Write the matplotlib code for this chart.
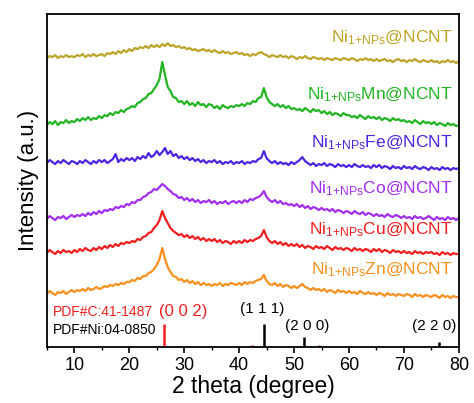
import numpy as np
import matplotlib
matplotlib.use('Agg')
import matplotlib.pyplot as plt
from matplotlib.ticker import MultipleLocator

plt.rcParams['font.family'] = ['Liberation Sans', 'DejaVu Sans']
plt.rcParams['mathtext.fontset'] = 'custom'
plt.rcParams['mathtext.rm'] = 'Liberation Sans'
plt.rcParams['mathtext.it'] = 'Liberation Sans:italic'

# 2 theta grid, 0.5 degree steps from 5 to 80
two_theta = np.arange(5.0, 80.01, 0.5)

# stacked intensities (a.u., offsets already included)
ni_ncnt = [
    289, 291, 290, 292, 289, 291, 290, 292, 290, 291,
    290, 292, 291, 293, 290, 292, 291, 293, 291, 292,
    293, 291, 294, 293, 295, 293, 296, 294, 297, 295,
    298, 296, 299, 298, 300, 299, 301, 299, 302, 300,
    302, 300, 303, 301, 304, 301, 302, 300, 301, 299,
    300, 298, 299, 297, 298, 296, 297, 298, 296, 297,
    295, 297, 295, 294, 296, 294, 295, 293, 294, 295,
    293, 294, 292, 293, 291, 293, 292, 294, 295, 293,
    292, 290, 292, 291, 290, 292, 290, 291, 289, 291,
    290, 288, 290, 289, 291, 289, 288, 290, 289, 288,
    289, 287, 289, 288, 287, 289, 288, 287, 289, 288,
    287, 289, 288, 286, 288, 287, 289, 287, 288, 286,
    288, 286, 287, 288, 286, 287, 285, 287, 288, 286,
    287, 285, 287, 286, 288, 286, 285, 287, 286, 285,
    287, 285, 286, 284, 286, 285, 287, 285, 286, 284,
    286]

ni_mn = [
    222, 225, 223, 226, 222, 225, 224, 227, 224, 226,
    225, 228, 226, 229, 227, 230, 227, 229, 228, 231,
    229, 232, 231, 234, 232, 235, 234, 237, 235, 238,
    239, 241, 240, 244, 245, 248, 249, 253, 254, 258,
    262, 268, 285, 272, 260, 256, 250, 249, 245, 246,
    243, 246, 242, 244, 241, 245, 242, 243, 240, 243,
    242, 239, 241, 238, 242, 240, 239, 241, 240, 242,
    241, 243, 241, 244, 243, 246, 245, 249, 250, 259,
    250, 245, 243, 241, 243, 240, 242, 239, 241, 238,
    239, 237, 238, 236, 239, 237, 235, 238, 236, 237,
    234, 236, 233, 235, 232, 234, 233, 231, 234, 232,
    232, 230, 231, 229, 232, 230, 228, 231, 229, 230,
    228, 230, 227, 229, 228, 226, 229, 227, 228, 226,
    227, 225, 226, 224, 227, 225, 223, 226, 224, 225,
    223, 225, 222, 224, 223, 221, 224, 222, 223, 221,
    222]

ni_fe = [
    184, 187, 185, 183, 186, 184, 187, 185, 183, 186,
    185, 183, 186, 184, 187, 185, 183, 186, 184, 187,
    185, 187, 184, 186, 188, 193, 185, 188, 186, 189,
    187, 189, 186, 190, 188, 191, 189, 194, 190, 192,
    196, 192, 195, 199, 193, 196, 191, 193, 189, 191,
    188, 190, 187, 189, 186, 188, 185, 187, 184, 186,
    185, 187, 184, 186, 183, 185, 184, 186, 183, 185,
    184, 186, 183, 185, 184, 186, 185, 188, 189, 196,
    189, 186, 184, 186, 183, 185, 183, 184, 182, 185,
    183, 185, 187, 190, 186, 184, 182, 184, 181, 183,
    182, 184, 181, 183, 182, 180, 183, 181, 182, 180,
    182, 180, 183, 181, 180, 182, 180, 181, 179, 182,
    180, 182, 179, 181, 180, 178, 181, 179, 180, 178,
    181, 179, 180, 178, 181, 179, 178, 180, 179, 177,
    180, 178, 179, 177, 180, 178, 179, 177, 179, 178,
    179]

ni_co = [
    128, 131, 129, 127, 130, 129, 131, 128, 130, 132,
    130, 132, 131, 133, 131, 134, 132, 135, 133, 136,
    134, 137, 136, 138, 137, 140, 139, 141, 140, 143,
    142, 145, 144, 147, 147, 150, 151, 154, 155, 158,
    157, 160, 163, 161, 158, 156, 153, 152, 149, 150,
    147, 149, 146, 148, 145, 147, 144, 146, 145, 147,
    144, 146, 143, 145, 144, 146, 143, 145, 146, 144,
    146, 144, 147, 145, 148, 147, 149, 150, 152, 156,
    150, 147, 145, 147, 144, 146, 143, 144, 142, 143,
    141, 143, 140, 142, 139, 141, 138, 140, 139, 137,
    139, 137, 138, 136, 138, 135, 137, 136, 134, 136,
    135, 133, 136, 134, 133, 135, 132, 134, 133, 131,
    133, 131, 132, 130, 133, 131, 130, 132, 131, 129,
    131, 129, 130, 128, 131, 129, 130, 128, 129, 131,
    129, 127, 130, 128, 129, 127, 130, 128, 129, 127,
    129]

ni_cu = [
    94, 97, 95, 93, 96, 94, 97, 95, 96, 94,
    97, 95, 98, 96, 99, 97, 96, 99, 97, 100,
    98, 101, 99, 102, 100, 103, 101, 104, 103, 105,
    104, 106, 105, 108, 107, 110, 111, 114, 115, 119,
    122, 127, 136, 129, 124, 119, 116, 114, 112, 113,
    110, 112, 109, 111, 108, 110, 107, 109, 106, 108,
    106, 108, 105, 107, 104, 106, 105, 103, 106, 104,
    106, 104, 107, 105, 107, 106, 108, 109, 111, 117,
    110, 106, 104, 106, 103, 105, 102, 104, 101, 103,
    101, 103, 100, 102, 99, 101, 100, 98, 101, 99,
    100, 98, 101, 99, 97, 100, 98, 99, 97, 99,
    98, 96, 99, 97, 98, 96, 98, 97, 95, 98,
    96, 98, 95, 97, 96, 94, 97, 95, 96, 94,
    96, 94, 95, 93, 96, 94, 95, 93, 95, 94,
    95, 93, 94, 92, 95, 93, 94, 92, 94, 93,
    93]

ni_zn = [
    53, 56, 54, 52, 55, 54, 56, 53, 55, 57,
    55, 57, 56, 58, 56, 59, 57, 58, 60, 58,
    59, 61, 60, 62, 61, 63, 62, 64, 63, 65,
    65, 67, 66, 69, 68, 71, 71, 74, 75, 78,
    82, 88, 99, 88, 80, 75, 71, 70, 67, 68,
    65, 67, 64, 66, 63, 65, 62, 64, 62, 63,
    61, 63, 62, 64, 61, 63, 62, 64, 63, 62,
    64, 62, 65, 63, 65, 64, 66, 67, 68, 72,
    66, 63, 62, 64, 61, 63, 60, 62, 61, 59,
    61, 59, 61, 63, 60, 59, 57, 59, 57, 58,
    56, 58, 55, 57, 56, 54, 57, 55, 56, 54,
    56, 54, 55, 53, 56, 54, 53, 55, 53, 54,
    52, 54, 53, 51, 54, 52, 53, 51, 53, 52,
    51, 53, 52, 50, 53, 51, 52, 50, 52, 51,
    50, 52, 51, 49, 52, 50, 51, 49, 51, 50,
    50]

series = [ni_ncnt, ni_mn, ni_fe, ni_co, ni_cu, ni_zn]
labels = ['Ni$_{1\\mathrm{+NPs}}$@NCNT', 'Ni$_{1\\mathrm{+NPs}}$Mn@NCNT',
          'Ni$_{1\\mathrm{+NPs}}$Fe@NCNT', 'Ni$_{1\\mathrm{+NPs}}$Co@NCNT',
          'Ni$_{1\\mathrm{+NPs}}$Cu@NCNT', 'Ni$_{1\\mathrm{+NPs}}$Zn@NCNT']
colors = ['#bba428', '#22b422', '#4c24e2', '#a22ef0', '#f01e1e', '#f7901e']
label_y = [309, 252, 204, 158, 117, 77]

# reference patterns (relative intensity, %)
carbon_pos = [26.4, 42.3, 44.5, 50.7, 54.6, 59.8, 77.4]
carbon_int = [100, 8, 8, 6, 8, 6, 6]
nickel_pos = [44.5, 51.8, 76.4]
nickel_int = [100, 42, 21]
nickel_hkl = ['(1 1 1)', '(2 0 0)', '(2 2 0)']
stick_scale = 0.23

fig = plt.figure(figsize=(4.74, 4.03), dpi=100)
ax = fig.add_axes([0.099, 0.139, 0.869, 0.826])

for y, lab, c, ly in zip(series, labels, colors, label_y):
    ax.plot(two_theta, y, color=c, lw=1.6)
    ax.text(78.8, ly, lab, color=c, fontsize=12.5, ha='right', va='center')

ax.vlines(carbon_pos, 0, np.array(carbon_int) * stick_scale,
          color='#f01e1e', lw=1.8)
ax.vlines(nickel_pos, 0, np.array(nickel_int) * stick_scale,
          color='black', lw=1.8)

ax.text(6.1, 35, 'PDF#C:41-1487', color='#f01e1e', fontsize=10,
        ha='left', va='center')
ax.text(6.1, 17, 'PDF#Ni:04-0850', color='black', fontsize=10,
        ha='left', va='center')
ax.text(29.8, 35, '(0 0 2)', color='#f01e1e', fontsize=12,
        ha='center', va='center')
hkl_xy = [(44.2, 38), (52.4, 21), (75.5, 21)]
for (hx, hy), hkl in zip(hkl_xy, nickel_hkl):
    ax.text(hx, hy, hkl, color='black', fontsize=11, ha='center', va='center')

ax.set_xlim(5, 80)
ax.set_ylim(0, 333)
ax.set_yticks([])
ax.xaxis.set_major_locator(MultipleLocator(10))
ax.xaxis.set_minor_locator(MultipleLocator(5))
ax.tick_params(axis='x', which='major', direction='out', length=4,
               width=1.2, labelsize=13, pad=3)
ax.tick_params(axis='x', which='minor', direction='out', length=2.5,
               width=1.0)
for sp in ax.spines.values():
    sp.set_linewidth(1.3)

ax.set_xlabel('2 theta (degree)', fontsize=16.5, labelpad=1)
ax.set_ylabel('Intensity (a.u.)', fontsize=16, labelpad=6)

fig.savefig('out.png', dpi=100)
